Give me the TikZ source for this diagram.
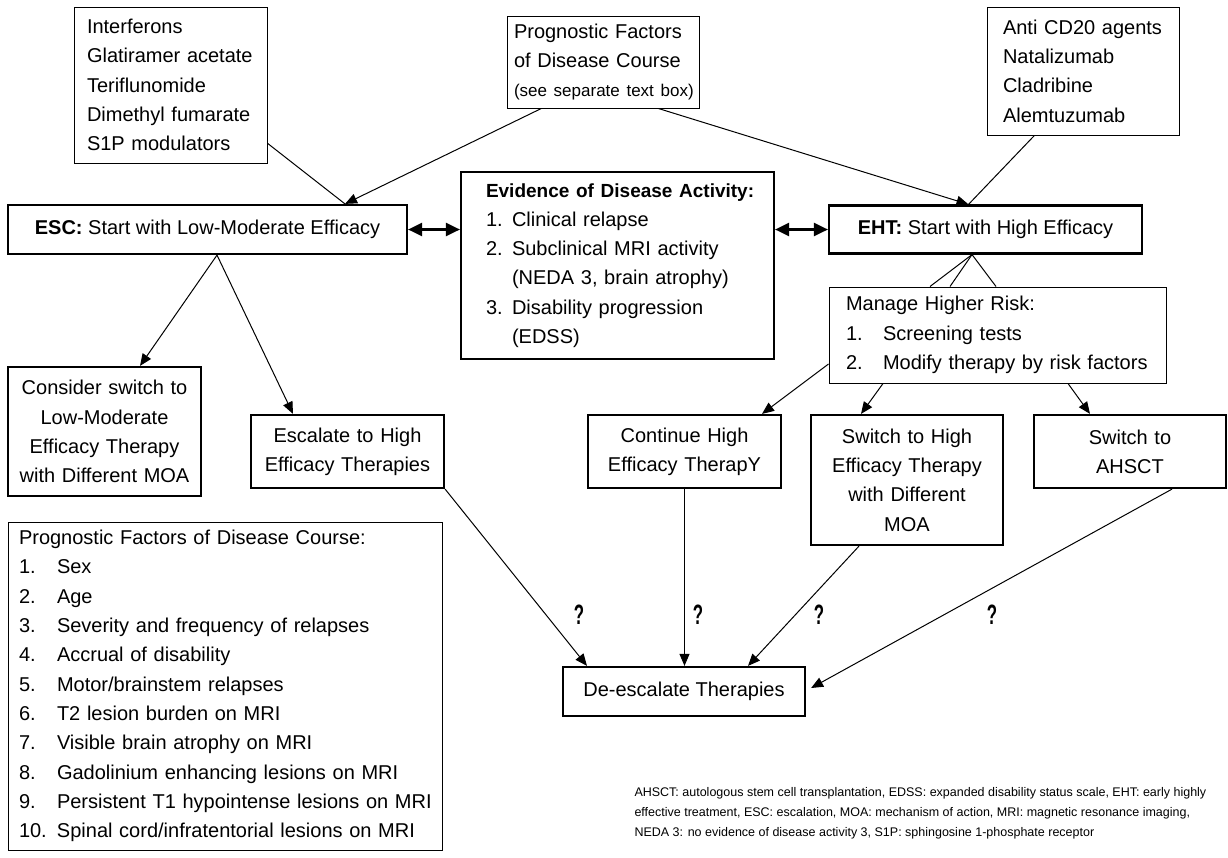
\documentclass[tikz,border=0pt]{standalone}
\usepackage{fontspec}
\setmainfont{Liberation Sans}
\usepackage{graphicx}
\usetikzlibrary{arrows.meta}

\newcommand{\numitem}[3][38pt]{\mbox{\makebox[#1][l]{#2}#3}}

\begin{document}
\begin{tikzpicture}[x=1pt, y=-1pt, line width=1pt,
	thinbox/.style={draw, line width=1pt, inner sep=0pt, font=\fontsize{20}{29.3}\selectfont},
	thickbox/.style={draw, line width=2.2pt, inner sep=0pt, align=center, font=\fontsize{20}{29.3}\selectfont},
	link/.style={line width=1pt},
	arr/.style={line width=1pt, -{Triangle[length=12pt,width=10pt]}},
	dblarr/.style={line width=2.2pt, {Triangle[length=14pt,width=13pt]}-{Triangle[length=14pt,width=13pt]}},
	qmark/.style={inner sep=0pt, font=\bfseries\fontsize{28}{28}\selectfont}]
	% Рамка рисунка
	\fill[white] (0, 0) rectangle (1228, 857);
	\useasboundingbox (0, 0) rectangle (1228, 857);

	% Верхний ряд
	\node[thinbox, minimum width=193pt, minimum height=156pt, text width=167pt, align=left] (drugs) at (170.5, 85)
		{Interferons\\Glatiramer acetate\\Teriflunomide\\Dimethyl fumarate\\S1P modulators};
	\node[thinbox, minimum width=192pt, minimum height=92pt, text width=178pt, align=left] (progsmall) at (603, 62)
		{Prognostic Factors\\of Disease Course\\\mbox{\fontsize{17}{26}\selectfont (see separate text box)}};
	\node[thinbox, minimum width=192pt, minimum height=128pt, text width=160pt, align=left] (cd20) at (1083, 71)
		{Anti CD20 agents\\Natalizumab\\Cladribine\\Alemtuzumab};

	% Средний ряд
	\node[thickbox, minimum width=399pt, minimum height=49pt] (esc) at (207.5, 229.5)
		{\textbf{ESC:} Start with Low-Moderate Efficacy};
	\node[thickbox, minimum width=313pt, minimum height=187pt, text width=263pt, align=left] (eda) at (617.5, 265.5)
		{\mbox{\fontsize{19}{29.3}\selectfont\textbf{Evidence of Disease Activity:}}\\
		 \numitem[26pt]{1.}{Clinical relapse}\\
		 \numitem[26pt]{2.}{Subclinical MRI activity}\\
		 \numitem[26pt]{}{(NEDA 3, brain atrophy)}\\
		 \numitem[26pt]{3.}{Disability progression}\\
		 \numitem[26pt]{}{(EDSS)}};
	\node[thickbox, minimum width=313pt, minimum height=48pt] (eht) at (985.5, 229.5)
		{\textbf{EHT:} Start with High Efficacy};
	\node[thinbox, minimum width=337pt, minimum height=96pt, text width=303pt, align=left] (manage) at (997.5, 335)
		{Manage Higher Risk:\\\numitem[37pt]{1.}{Screening tests}\\\numitem[37pt]{2.}{Modify therapy by risk factors}};

	% Варианты терапии
	\node[thickbox, minimum width=193pt, minimum height=129pt, text width=185pt] (consider) at (104.5, 431.5)
		{Consider switch to\\Low-Moderate\\Efficacy Therapy\\with Different MOA};
	\node[thickbox, minimum width=193pt, minimum height=73pt, text width=185pt] (escalate) at (347.5, 451.5)
		{Escalate to High\\Efficacy Therapies};
	\node[thickbox, minimum width=193pt, minimum height=73pt, text width=185pt] (continue) at (684.5, 451.5)
		{Continue High\\Efficacy TherapY};
	\node[thickbox, minimum width=192pt, minimum height=130pt, text width=184pt] (swhigh) at (907, 480)
		{Switch to High\\Efficacy Therapy\\with Different\\MOA};
	\node[thickbox, minimum width=192pt, minimum height=73pt, text width=184pt] (ahsct) at (1130, 451.5)
		{Switch to\\AHSCT};
	\node[thickbox, minimum width=242pt, minimum height=49pt] (deesc) at (684, 691.5)
		{De-escalate Therapies};

	% Список факторов
	\node[thinbox, minimum width=434pt, minimum height=328pt, text width=412pt, align=left] (progbig) at (225, 686)
		{\mbox{Prognostic Factors of Disease Course:}\\
		 \numitem{1.}{Sex}\\
		 \numitem{2.}{Age}\\
		 \numitem{3.}{Severity and frequency of relapses}\\
		 \numitem{4.}{Accrual of disability}\\
		 \numitem{5.}{Motor/brainstem relapses}\\
		 \numitem{6.}{T2 lesion burden on MRI}\\
		 \numitem{7.}{Visible brain atrophy on MRI}\\
		 \numitem{8.}{Gadolinium enhancing lesions on MRI}\\
		 \numitem{9.}{Persistent T1 hypointense lesions on MRI}\\
		 \numitem{10.}{Spinal cord/infratentorial lesions on MRI}};

	% Сокращения
	\node[anchor=west, align=left, inner sep=0pt, font=\fontsize{12.5}{20}\selectfont] (abbrev) at (634, 813)
		{AHSCT: autologous stem cell transplantation, EDSS: expanded disability status scale, EHT: early highly\\
		 effective treatment, ESC: escalation, MOA: mechanism of action, MRI: magnetic resonance imaging,\\
		 NEDA 3: no evidence of disease activity 3, S1P: sphingosine 1-phosphate receptor};

	% Вопросы
	\node[qmark] (q1) at (579, 615) {\scalebox{0.6}[1]{?}};
	\node[qmark] (q2) at (698, 615) {\scalebox{0.6}[1]{?}};
	\node[qmark] (q3) at (819, 615) {\scalebox{0.6}[1]{?}};
	\node[qmark] (q4) at (992, 615) {\scalebox{0.6}[1]{?}};

	% Точки схода линий
	\coordinate (escin) at ([xshift=137.5pt]esc.north);
	\coordinate (ehtin) at ([xshift=-17pt]eht.north);
	\coordinate (escout) at ([xshift=9.5pt]esc.south);
	\coordinate (ehtout) at ([xshift=-13.5pt]eht.south);

	% Линии сверху
	\draw[link] (drugs.-31) -- (escin);
	\draw[arr] (progsmall.-143) -- (escin);
	\draw[arr] (progsmall.-40) -- (ehtin);
	\draw[link] (cd20.-127) -- (ehtin);

	% Двойные стрелки
	\draw[dblarr] (esc.east) -- (esc.east -| eda.west);
	\draw[dblarr] (eda.east |- eht.west) -- (eht.west);

	% Ветка ESC
	\draw[arr] (escout) -- ([xshift=35.5pt]consider.north);
	\draw[arr] (escout) -- ([xshift=-54.5pt]escalate.north);

	% Ветка EHT
	\foreach \dx in {-67.5, -47.5, -1.5}
		\draw[link] (ehtout) -- ([xshift=\dx pt]manage.north);
	\draw[arr] ([yshift=-29pt]manage.west) -- ([xshift=77.5pt]continue.north);
	\draw[arr] ([xshift=-114.5pt]manage.south) -- ([xshift=-46pt]swhigh.north);
	\draw[arr] ([xshift=70.5pt]manage.south) -- ([xshift=-40pt]ahsct.north);

	% К деэскалации
	\draw[arr] (escalate.south east) -- ([xshift=-97pt]deesc.north);
	\draw[arr] (continue.south) -- (continue.south |- deesc.north);
	\draw[arr] ([xshift=-48pt]swhigh.south) -- ([xshift=64pt]deesc.north);
	\draw[arr] ([xshift=42pt]ahsct.south) -- ([xshift=5pt, yshift=3.5pt]deesc.east);
\end{tikzpicture}
\end{document}
